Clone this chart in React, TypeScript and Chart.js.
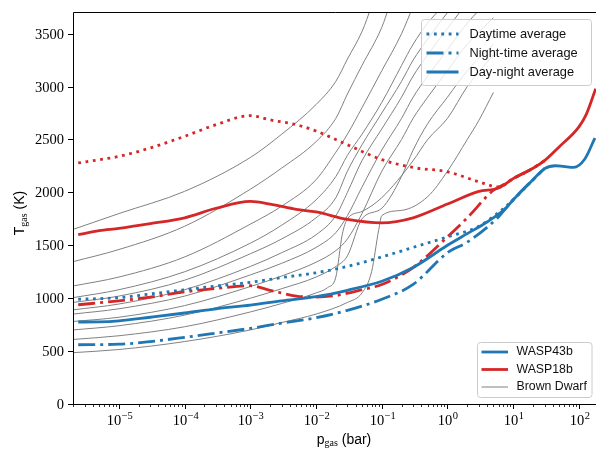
import React, { useEffect, useRef } from "react";
import { Chart, registerables } from "chart.js";
Chart.register(...registerables);

const BLUE = "#1f77b4";
const RED = "#d62728";
const GRAY = "#808080";

// ---------- WASP-43b (pressure in bar, temperature in K) ----------
const W43_DAY: number[][] = [
  [2.4e-6, 990], [1e-5, 1005], [3e-5, 1040], [1e-4, 1080], [3e-4, 1115], [1e-3, 1150],
  [3e-3, 1195], [1e-2, 1240], [3e-2, 1300], [0.1, 1390], [0.3, 1480], [1, 1580],
  [3, 1680], [6, 1810], [10, 1930], [20, 2120], [30, 2225],
];
const W43_NIGHT: number[][] = [
  [2.4e-6, 560], [1e-5, 565], [3e-5, 590], [1e-4, 630], [3e-4, 670], [1e-3, 715],
  [3e-3, 765], [1e-2, 815], [3e-2, 885], [0.1, 990], [0.3, 1130], [1, 1430],
  [2, 1530], [4, 1670], [6, 1770], [8, 1860], [10, 1930], [20, 2120], [30, 2225],
];
const W43_MEAN: number[][] = [
  [2.4e-6, 775], [5e-6, 776], [1e-5, 785], [3e-5, 820], [1e-4, 860], [3e-4, 900],
  [1e-3, 935], [3e-3, 975], [1e-2, 1015], [3e-2, 1075], [0.1, 1160], [0.3, 1290],
  [1, 1500], [2, 1610], [4, 1720], [8, 1860], [10, 1930], [20, 2120], [30, 2225],
  [44, 2252], [58, 2246], [83, 2237], [123, 2316], [175, 2514],
];

// ---------- WASP-18b ----------
const W18_DAY: number[][] = [
  [2.4e-6, 2278], [5e-6, 2309], [1e-5, 2340], [3e-5, 2420], [1e-4, 2530], [3e-4, 2640],
  [1e-3, 2725], [2e-3, 2685], [5e-3, 2640], [1e-2, 2580], [3e-2, 2450], [0.1, 2310],
  [0.3, 2235], [1, 2195], [3, 2100], [6, 2052], [10, 2130], [20, 2228], [30, 2300],
];
const W18_NIGHT: number[][] = [
  [2.4e-6, 938], [1e-5, 975], [3e-5, 1010], [1e-4, 1060], [3e-4, 1092], [1e-3, 1118],
  [2e-3, 1075], [5e-3, 1020], [1e-2, 1010], [2e-2, 1025], [5e-2, 1080], [0.1, 1130],
  [0.3, 1290], [1, 1580], [2, 1760], [5, 2020], [7, 2070], [10, 2130], [20, 2228], [30, 2300],
];
const W18_MEAN: number[][] = [
  [2.4e-6, 1600], [5e-6, 1638], [1e-5, 1660], [3e-5, 1705], [1e-4, 1760], [3e-4, 1850],
  [1e-3, 1915], [2e-3, 1890], [5e-3, 1840], [1e-2, 1815], [3e-2, 1745], [0.1, 1712],
  [0.3, 1760], [1, 1890], [3, 2010], [6, 2042], [10, 2130], [20, 2228], [30, 2300],
  [50, 2430], [100, 2620], [130, 2740], [180, 2980],
];

// ---------- Brown dwarf profiles ----------
const BD1: number[][] = [[2e-6, 1650], [1e-5, 1800], [1e-4, 2010], [1e-3, 2330], [3e-3, 2550], [1e-2, 2830], [2e-2, 3050], [3e-2, 3260], [5e-2, 3520], [7e-2, 3760]];
const BD2: number[][] = [[2e-6, 1345], [1e-5, 1460], [1e-4, 1680], [1e-3, 2030], [3e-3, 2230], [1e-2, 2480], [2e-2, 2700], [3e-2, 2930], [5e-2, 3200], [0.1, 3560], [0.13, 3760]];
const BD3: number[][] = [[2e-6, 1115], [1e-5, 1200], [1e-4, 1390], [1e-3, 1700], [3e-3, 1870], [1e-2, 2120], [2e-2, 2380], [3e-2, 2550], [5e-2, 2800], [0.1, 3150], [0.2, 3500], [0.3, 3760]];
const BD4: number[][] = [[2e-6, 1005], [1e-5, 1080], [1e-4, 1250], [1e-3, 1520], [3e-3, 1690], [1e-2, 1930], [2e-2, 2150], [3e-2, 2350], [5e-2, 2550], [0.1, 2850], [0.2, 3200], [0.3, 3400], [0.5, 3600], [0.85, 3760]];
const BD5: number[][] = [[2e-6, 960], [1e-5, 1020], [1e-4, 1170], [1e-3, 1420], [3e-3, 1560], [1e-2, 1760], [2e-2, 1950], [3e-2, 2200], [5e-2, 2450], [0.1, 2750], [0.2, 3050], [0.3, 3250], [0.5, 3450], [1, 3700], [1.2, 3760]];
const BD6: number[][] = [[2e-6, 890], [1e-5, 945], [1e-4, 1080], [1e-3, 1300], [3e-3, 1430], [1e-2, 1600], [2e-2, 1780], [3e-2, 2000], [5e-2, 2300], [0.1, 2600], [0.2, 2900], [0.3, 3100], [0.5, 3300], [1, 3550], [1.8, 3760]];
const BD7: number[][] = [[2e-6, 850], [1e-5, 900], [1e-4, 1020], [1e-3, 1220], [3e-3, 1330], [1e-2, 1480], [2e-2, 1620], [3e-2, 1780], [5e-2, 2050], [0.1, 2400], [0.2, 2700], [0.3, 2900], [0.5, 3100], [1, 3350], [2, 3600], [3, 3720]];
const BD8: number[][] = [[2e-6, 780], [1e-5, 820], [1e-4, 930], [1e-3, 1110], [3e-3, 1210], [1e-2, 1340], [2e-2, 1450], [3e-2, 1560], [5e-2, 1800], [0.1, 2200], [0.2, 2500], [0.3, 2700], [0.5, 2900], [1, 3150], [2, 3400], [5, 3650]];
const BD9: number[][] = [[2e-6, 700], [1e-5, 740], [1e-4, 840], [1e-3, 1000], [3e-3, 1090], [1e-2, 1200], [2e-2, 1300], [3e-2, 1400], [5e-2, 1750], [0.1, 1850], [0.2, 2150], [0.3, 2400], [0.5, 2650], [1, 2900], [2, 3150], [5, 3400]];
const BD10: number[][] = [[2e-6, 610], [1e-5, 645], [1e-4, 730], [1e-3, 870], [3e-3, 950], [1e-2, 1050], [1.5e-2, 1100], [2e-2, 1200], [2.5e-2, 1600], [3e-2, 1750], [5e-2, 1820], [0.1, 1950], [0.3, 2300], [0.5, 2500], [1, 2700], [2, 3000], [5, 3300]];
const BD11: number[][] = [[2e-6, 485], [1e-5, 515], [1e-4, 590], [1e-3, 700], [3e-3, 770], [1e-2, 850], [3e-2, 960], [5e-2, 1050], [7e-2, 1250], [9e-2, 1650], [0.1, 1780], [0.2, 1830], [0.5, 1960], [1, 2200], [2, 2500], [3, 2680], [5, 2945]];
const BROWN_DWARFS = [BD1, BD2, BD3, BD4, BD5, BD6, BD7, BD8, BD9, BD10, BD11];

// ---------- axes ----------
const X_MIN = 2.0e-6;
const X_MAX = 182;
const Y_MIN = 0;
const Y_MAX = 3705;
const Y_TICKS = [0, 500, 1000, 1500, 2000, 2500, 3000, 3500];
const X_TICK_EXPONENTS = [-5, -4, -3, -2, -1, 0, 1, 2];

const DOTTED = [2.8, 4.6];
const DASHDOT = [17, 5, 3, 5];

const SERIF = '"Liberation Serif", "DejaVu Serif", serif';
const SANS = '"Liberation Sans", "DejaVu Sans", sans-serif';

function toXY(arr: number[][]) {
  return arr.map(([p, t]) => ({ x: p, y: t }));
}

function roundRect(ctx: CanvasRenderingContext2D, x: number, y: number, w: number, h: number, r: number) {
  ctx.beginPath();
  ctx.moveTo(x + r, y);
  ctx.lineTo(x + w - r, y);
  ctx.arcTo(x + w, y, x + w, y + r, r);
  ctx.lineTo(x + w, y + h - r);
  ctx.arcTo(x + w, y + h, x + w - r, y + h, r);
  ctx.lineTo(x + r, y + h);
  ctx.arcTo(x, y + h, x, y + h - r, r);
  ctx.lineTo(x, y + r);
  ctx.arcTo(x, y, x + r, y, r);
  ctx.closePath();
}

const decorPlugin = {
  id: "decor",
  afterDraw(chart: any) {
    const ctx: CanvasRenderingContext2D = chart.ctx;
    const a = chart.chartArea;
    const xs = chart.scales.x;
    const ys = chart.scales.y;
    ctx.save();

    // frame
    ctx.strokeStyle = "#000";
    ctx.lineWidth = 1;
    ctx.beginPath();
    ctx.moveTo(a.right + 2, a.top + 0.5);
    ctx.lineTo(a.left + 0.5, a.top + 0.5);
    ctx.lineTo(a.left + 0.5, a.bottom + 0.5);
    ctx.lineTo(a.right + 2, a.bottom + 0.5);
    ctx.stroke();

    // y ticks
    ctx.fillStyle = "#000";
    ctx.font = `14.5px ${SERIF}`;
    ctx.textAlign = "right";
    ctx.textBaseline = "middle";
    for (const v of Y_TICKS) {
      const py = Math.round(ys.getPixelForValue(v)) + 0.5;
      ctx.beginPath();
      ctx.moveTo(a.left - 5, py);
      ctx.lineTo(a.left, py);
      ctx.stroke();
      ctx.fillText(String(v), a.left - 9, py + 0.5);
    }

    // x minor ticks
    ctx.lineWidth = 0.8;
    for (let k = -6; k <= 2; k++) {
      for (let m = 2; m <= 9; m++) {
        const v = m * Math.pow(10, k);
        if (v < X_MIN || v > X_MAX) continue;
        const px = Math.round(xs.getPixelForValue(v)) + 0.5;
        ctx.beginPath();
        ctx.moveTo(px, a.bottom);
        ctx.lineTo(px, a.bottom + 3);
        ctx.stroke();
      }
    }
    // x major ticks + labels
    ctx.lineWidth = 1;
    for (const k of X_TICK_EXPONENTS) {
      const px = Math.round(xs.getPixelForValue(Math.pow(10, k))) + 0.5;
      ctx.beginPath();
      ctx.moveTo(px, a.bottom);
      ctx.lineTo(px, a.bottom + 5);
      ctx.stroke();
      const base = "10";
      const sup = k < 0 ? "\u2212" + Math.abs(k) : String(k);
      ctx.font = `14.5px ${SERIF}`;
      const w1 = ctx.measureText(base).width;
      ctx.font = `10.5px ${SERIF}`;
      const w2 = ctx.measureText(sup).width;
      const x0 = px - (w1 + w2) / 2;
      ctx.textAlign = "left";
      ctx.textBaseline = "alphabetic";
      ctx.font = `14.5px ${SERIF}`;
      ctx.fillText(base, x0, 424.5);
      ctx.font = `10.5px ${SERIF}`;
      ctx.fillText(sup, x0 + w1 + 0.5, 418.5);
    }

    // x axis title: p_gas (bar)
    {
      ctx.textBaseline = "alphabetic";
      ctx.textAlign = "left";
      const f1 = `14px ${SANS}`;
      const f2 = `10px ${SERIF}`;
      ctx.font = f1;
      const wp = ctx.measureText("p").width;
      const wr = ctx.measureText(" (bar)").width;
      ctx.font = f2;
      const wg = ctx.measureText("gas").width;
      const total = wp + wg + wr;
      const cx = 344;
      let x0 = cx - total / 2;
      const by = 443.5;
      ctx.font = f1;
      ctx.fillText("p", x0, by);
      x0 += wp;
      ctx.font = f2;
      ctx.fillText("gas", x0, by + 2.5);
      x0 += wg;
      ctx.font = f1;
      ctx.fillText(" (bar)", x0, by);
    }

    // y axis title: T_gas (K)
    {
      ctx.save();
      ctx.translate(24, 213);
      ctx.rotate(-Math.PI / 2);
      const f1 = `14px ${SANS}`;
      const f2 = `10px ${SERIF}`;
      ctx.font = f1;
      const wt = ctx.measureText("T").width;
      const wr = ctx.measureText(" (K)").width;
      ctx.font = f2;
      const wg = ctx.measureText("gas").width;
      const total = wt + wg + wr;
      let x0 = -total / 2;
      ctx.textAlign = "left";
      ctx.textBaseline = "alphabetic";
      ctx.font = f1;
      ctx.fillText("T", x0, 0);
      x0 += wt;
      ctx.font = f2;
      ctx.fillText("gas", x0, 2.5);
      x0 += wg;
      ctx.font = f1;
      ctx.fillText(" (K)", x0, 0);
      ctx.restore();
    }

    // legend 1 (line styles)
    {
      const bx = 421.5, by = 19.5, bw = 170, bh = 66;
      roundRect(ctx, bx, by, bw, bh, 3);
      ctx.fillStyle = "rgba(255,255,255,0.8)";
      ctx.fill();
      ctx.strokeStyle = "#cccccc";
      ctx.lineWidth = 1;
      ctx.stroke();
      const rows = [
        { label: "Daytime average", dash: DOTTED, y: 34 },
        { label: "Night-time average", dash: DASHDOT, y: 53 },
        { label: "Day-night average", dash: [] as number[], y: 72 },
      ];
      ctx.font = `12.8px ${SANS}`;
      ctx.textAlign = "left";
      ctx.textBaseline = "middle";
      for (const r of rows) {
        ctx.strokeStyle = BLUE;
        ctx.lineWidth = 2.8;
        ctx.setLineDash(r.dash);
        ctx.beginPath();
        ctx.moveTo(426.5, r.y);
        ctx.lineTo(458.5, r.y);
        ctx.stroke();
        ctx.setLineDash([]);
        ctx.fillStyle = "#111";
        ctx.fillText(r.label, 469.5, r.y);
      }
    }

    // legend 2 (planets)
    {
      const bx = 477.5, by = 342.5, bw = 114.5, bh = 55;
      roundRect(ctx, bx, by, bw, bh, 3);
      ctx.fillStyle = "rgba(255,255,255,0.8)";
      ctx.fill();
      ctx.strokeStyle = "#cccccc";
      ctx.lineWidth = 1;
      ctx.stroke();
      const rows = [
        { label: "WASP43b", color: BLUE, lw: 2.8, y: 352 },
        { label: "WASP18b", color: RED, lw: 2.8, y: 369.5 },
        { label: "Brown Dwarf", color: GRAY, lw: 1, y: 387 },
      ];
      ctx.font = `12.3px ${SANS}`;
      ctx.textAlign = "left";
      ctx.textBaseline = "middle";
      for (const r of rows) {
        ctx.strokeStyle = r.color;
        ctx.lineWidth = r.lw;
        ctx.beginPath();
        ctx.moveTo(481.5, r.y);
        ctx.lineTo(508, r.y);
        ctx.stroke();
        ctx.fillStyle = "#111";
        ctx.fillText(r.label, 516.5, r.y);
      }
    }

    ctx.restore();
  },
};

export default function App() {
  const ref = useRef<HTMLCanvasElement | null>(null);
  useEffect(() => {
    if (!ref.current) return;
    const planet = (data: number[][], color: string, dash: number[], order: number) => ({
      data: toXY(data),
      borderColor: color,
      borderWidth: 2.8,
      borderDash: dash,
      borderCapStyle: "butt" as const,
      pointRadius: 0,
      fill: false,
      cubicInterpolationMode: "monotone" as const,
      order,
    });
    const datasets: any[] = [
      planet(W43_MEAN, BLUE, [], 1),
      planet(W43_DAY, BLUE, DOTTED, 1),
      planet(W43_NIGHT, BLUE, DASHDOT, 1),
      planet(W18_MEAN, RED, [], 1),
      planet(W18_DAY, RED, DOTTED, 1),
      planet(W18_NIGHT, RED, DASHDOT, 1),
      ...BROWN_DWARFS.map((bd) => ({
        data: toXY(bd),
        borderColor: GRAY,
        borderWidth: 1,
        pointRadius: 0,
        fill: false,
        cubicInterpolationMode: "monotone" as const,
        order: 5,
      })),
    ];
    const chart = new Chart(ref.current, {
      type: "line",
      data: { datasets },
      options: {
        animation: false,
        responsive: false,
        maintainAspectRatio: false,
        devicePixelRatio: 1,
        parsing: false as any,
        layout: { padding: { top: 12, right: 0, left: 0, bottom: 0 } },
        plugins: { legend: { display: false }, tooltip: { enabled: false } },
        scales: {
          x: {
            type: "logarithmic",
            min: X_MIN,
            max: X_MAX,
            grid: { display: false },
            border: { display: false },
            ticks: { display: false },
            afterFit: (s: any) => { s.height = 46; },
          },
          y: {
            type: "linear",
            min: Y_MIN,
            max: Y_MAX,
            grid: { display: false },
            border: { display: false },
            ticks: { display: false },
            afterFit: (s: any) => { s.width = 73; },
          },
        },
      },
      plugins: [decorPlugin],
    });
    return () => chart.destroy();
  }, []);
  return (
    <div style={{ position: "absolute", left: 0, top: 0, width: 596, height: 450, background: "#fff" }}>
      <canvas ref={ref} width={596} height={450} style={{ display: "block", width: 596, height: 450 }} />
    </div>
  );
}
